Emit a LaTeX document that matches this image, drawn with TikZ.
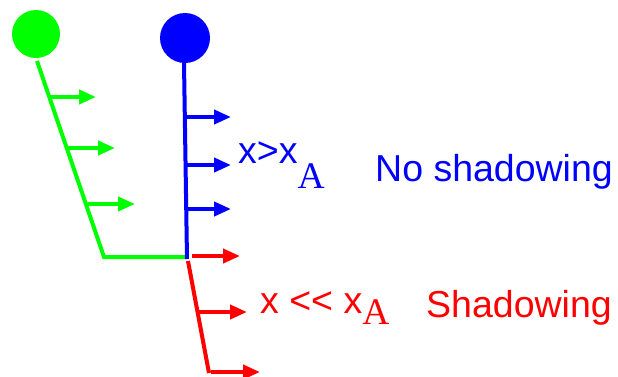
\documentclass[tikz,border=0pt]{standalone}
\usepackage{fontspec}
\setmainfont{Liberation Sans}
\newfontfamily\serifA{Liberation Serif}
\usetikzlibrary{arrows.meta}
\definecolor{pgreen}{RGB}{0,255,0}
\definecolor{pblue}{RGB}{0,0,255}
\definecolor{pred}{RGB}{255,0,0}
\tikzset{
  stem/.style={line width=4pt},
  flux/.style={line width=4pt,-{Triangle[length=17pt,width=14pt]}},
  lbl/.style={anchor=base west,inner sep=0pt,font=\fontsize{37.5}{40}\selectfont},
  ball/.style={circle,inner sep=0pt},
}
\begin{document}
\begin{tikzpicture}[x=1pt,y=-1pt]
\useasboundingbox (0,0) rectangle (618,376);
% balls
\node[ball,fill=pgreen,minimum size=48pt] (gball) at (36,34) {};
\node[ball,fill=pblue,minimum size=50pt] (bball) at (185,38) {};
% key points
\coordinate (gtop) at (37,61);
\coordinate (gcorner) at (104,257);
\coordinate (gend) at (187,257);
\coordinate (btop) at (184,63);
\coordinate (bbot) at (187,259);
\coordinate (rtop) at (188,261);
\coordinate (rbot) at (209,373);
% stems
\draw[stem,pgreen] (gtop) -- (gcorner) -- (gend);
\draw[stem,pblue] (btop) -- (bbot);
\draw[stem,pred] (rtop) -- (rbot);
% green arrows
\coordinate (g1s) at (49,97);  \coordinate (g1e) at (96,97);
\coordinate (g2s) at (67,148); \coordinate (g2e) at (115,148);
\coordinate (g3s) at (86,204); \coordinate (g3e) at (135,204);
\draw[flux,pgreen] (g1s) -- (g1e);
\draw[flux,pgreen] (g2s) -- (g2e);
\draw[flux,pgreen] (g3s) -- (g3e);
% blue arrows
\coordinate (b1s) at (186,117); \coordinate (b1e) at (231,117);
\coordinate (b2s) at (186,165); \coordinate (b2e) at (231,165);
\coordinate (b3s) at (187,209); \coordinate (b3e) at (231,209);
\draw[flux,pblue] (b1s) -- (b1e);
\draw[flux,pblue] (b2s) -- (b2e);
\draw[flux,pblue] (b3s) -- (b3e);
% red arrows
\coordinate (r1s) at (192,256); \coordinate (r1e) at (240,256);
\coordinate (r2s) at (198,312); \coordinate (r2e) at (247,312);
\coordinate (r3s) at (211,372); \coordinate (r3e) at (260,372);
\draw[flux,pred] (r1s) -- (r1e);
\draw[flux,pred] (r2s) -- (r2e);
\draw[flux,pred] (r3s) -- (r3e);
% labels
\node[lbl,text=pblue] (bcond) at (238,163) {x>x\raisebox{-25pt}{\serifA A}};
\node[lbl,text=pblue] (btext) at (375,181) {No shadowing};
\node[lbl,text=pred] (rcond) at (260,313) {x {<}{<} x\raisebox{-11pt}{\serifA A}};
\node[lbl,text=pred] (rtext) at (426,317) {Shadowing};
\end{tikzpicture}
\end{document}
